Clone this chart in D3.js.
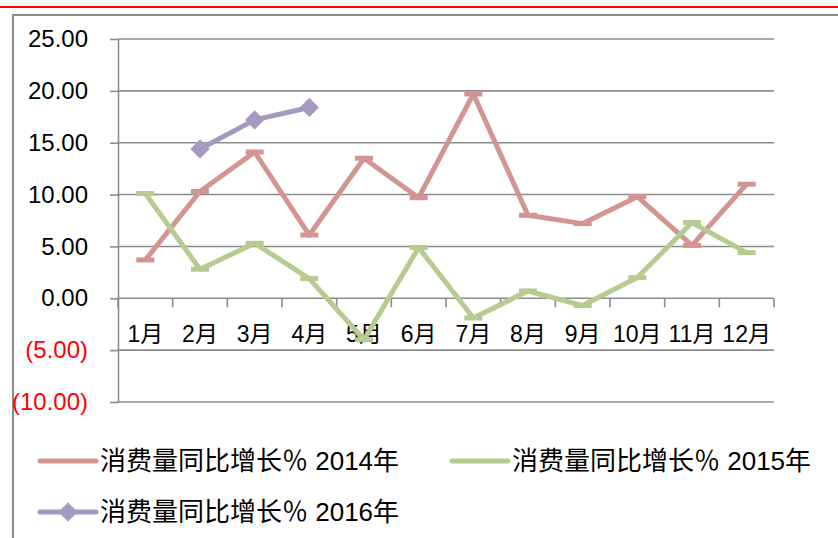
<!DOCTYPE html>
<html>
<head>
<meta charset="utf-8">
<script src="https://cdn.jsdelivr.net/npm/d3@7"></script>
<style>
	body { margin: 0; background: #fff; }
	#chart-area { width: 838px; height: 538px; }
	text { font-family: "Liberation Sans", "Noto Sans CJK SC", sans-serif; }
</style>
</head>
<body>
<div id="chart-area"></div>
<script>

// data
const months = ['1月', '2月', '3月', '4月', '5月', '6月', '7月', '8月', '9月', '10月', '11月', '12月'];
const growth2014 = [3.7, 10.3, 14.1, 6.1, 13.5, 9.7, 19.7, 8.0, 7.2, 9.8, 5.1, 11.0];
const growth2015 = [10.1, 2.8, 5.3, 1.9, -4.0, 4.9, -1.9, 0.7, -0.7, 2.0, 7.3, 4.4];
const growth2016 = [null, 14.4, 17.2, 18.4, null, null, null, null, null, null, null, null];
const seriesNames = ['消费量同比增长％ 2014年', '消费量同比增长％ 2015年', '消费量同比增长％ 2016年'];
const yTicks = [-10, -5, 0, 5, 10, 15, 20, 25];


class GrowthChart {

	constructor(_parentElement) {
		this.parentElement = _parentElement;

		// define colors
		this.colors = ['#D39592', '#B5CB8F', '#A598C1'];
		this.markers = ['dash', 'dash', 'diamond'];

		this.initVis();
	}

	initVis() {
		let vis = this;

		vis.width = 838;
		vis.height = 538;
		vis.plot = {left: 118, right: 774, top: 39, bottom: 402};

		vis.svg = d3.select("#" + vis.parentElement).append("svg")
			.attr("width", vis.width)
			.attr("height", vis.height);

		// red rule on top + frame of the chart
		vis.svg.append("line")
			.attr("x1", 0).attr("x2", vis.width)
			.attr("y1", 7).attr("y2", 7)
			.attr("stroke", "#FF0000")
			.attr("stroke-width", 2.2);

		vis.svg.append("path")
			.attr("d", `M13,${vis.height} V15 H${vis.width}`)
			.attr("fill", "none")
			.attr("stroke", "#8c8c8c")
			.attr("stroke-width", 2);

		// scales
		vis.x = d3.scaleBand()
			.domain(months)
			.range([vis.plot.left, vis.plot.right]);

		vis.y = d3.scaleLinear()
			.domain([-10, 25])
			.range([vis.plot.bottom, vis.plot.top]);

		// gridlines
		vis.svg.append("g")
			.attr("class", "grid")
			.selectAll("line")
			.data(yTicks)
			.enter().append("line")
			.attr("x1", vis.plot.left)
			.attr("x2", vis.plot.right)
			.attr("y1", d => vis.y(d))
			.attr("y2", d => vis.y(d))
			.attr("stroke", "#8c8c8c")
			.attr("stroke-width", 1.6);

		// y axis
		let fmt = d3.format(".2f");
		vis.yAxis = d3.axisLeft(vis.y)
			.tickValues(yTicks)
			.tickSizeInner(8)
			.tickSizeOuter(0)
			.tickPadding(22)
			.tickFormat(d => d < 0 ? `(${fmt(-d)})` : fmt(d));

		vis.yAxisG = vis.svg.append("g")
			.attr("class", "y-axis axis")
			.attr("transform", `translate(${vis.plot.left},0)`)
			.call(vis.yAxis);

		vis.yAxisG.selectAll("line, path")
			.attr("stroke", "#8c8c8c")
			.attr("stroke-width", 1.6);

		vis.yAxisG.selectAll("text")
			.attr("font-size", 24)
			.attr("font-family", "Liberation Sans, sans-serif")
			.attr("fill", d => d < 0 ? "#FF0000" : "#000");

		// x axis at zero line, ticks on band edges
		let y0 = vis.y(0);
		let edges = [vis.x(months[0])].concat(months.map(m => vis.x(m) + vis.x.bandwidth()));

		vis.svg.append("g")
			.attr("class", "x-ticks")
			.selectAll("line")
			.data(edges)
			.enter().append("line")
			.attr("x1", d => d).attr("x2", d => d)
			.attr("y1", y0).attr("y2", y0 + 9)
			.attr("stroke", "#8c8c8c")
			.attr("stroke-width", 1.6);

		vis.svg.append("g")
			.attr("class", "x-labels")
			.selectAll("text")
			.data(months)
			.enter().append("text")
			.attr("x", d => vis.x(d) + vis.x.bandwidth() / 2)
			.attr("y", y0 + 44)
			.attr("text-anchor", "middle")
			.attr("font-size", 23)
			.text(d => d);

		vis.line = d3.line()
			.defined(d => d.value !== null)
			.x(d => vis.x(d.month) + vis.x.bandwidth() / 2)
			.y(d => vis.y(d.value));

		vis.wrangleData();
	}

	wrangleData() {
		let vis = this;

		vis.displayData = [growth2014, growth2015, growth2016].map((arr, i) => ({
			name: seriesNames[i],
			color: vis.colors[i],
			marker: vis.markers[i],
			values: arr.map((v, j) => ({month: months[j], value: v}))
		}));

		vis.updateVis();
	}

	drawMarker(sel, d, color) {
		if (d === 'dash') {
			sel.append("rect")
				.attr("x", -9).attr("y", -2.5)
				.attr("width", 18).attr("height", 5)
				.attr("fill", color);
		} else {
			sel.append("path")
				.attr("d", d3.symbol(d3.symbolSquare, 185)())
				.attr("transform", "rotate(45)")
				.attr("fill", color);
		}
	}

	updateVis() {
		let vis = this;

		let series = vis.svg.selectAll(".series")
			.data(vis.displayData)
			.enter().append("g")
			.attr("class", "series");

		series.append("path")
			.attr("d", d => vis.line(d.values))
			.attr("fill", "none")
			.attr("stroke", d => d.color)
			.attr("stroke-width", 5)
			.attr("stroke-linejoin", "round");

		series.each(function (s) {
			d3.select(this).selectAll(".marker")
				.data(s.values.filter(v => v.value !== null))
				.enter().append("g")
				.attr("class", "marker")
				.attr("transform", d => `translate(${vis.x(d.month) + vis.x.bandwidth() / 2},${vis.y(d.value)})`)
				.each(function () { vis.drawMarker(d3.select(this), s.marker, s.color); });
		});

		// Legend
		let legendPos = [[40, 461], [452, 461], [40, 512]];

		let legend = vis.svg.append("g")
			.attr("class", "legend")
			.selectAll("g")
			.data(vis.displayData)
			.enter().append("g")
			.attr("transform", (d, i) => `translate(${legendPos[i][0]},${legendPos[i][1]})`);

		legend.append("line")
			.attr("x1", 0).attr("x2", 56)
			.attr("stroke", d => d.color)
			.attr("stroke-width", 5)
			.attr("stroke-linecap", "round");

		legend.filter(d => d.marker === 'diamond')
			.append("g")
			.attr("transform", "translate(28,0)")
			.each(function (d) { vis.drawMarker(d3.select(this), d.marker, d.color); });

		legend.append("text")
			.attr("x", 60)
			.attr("y", 9)
			.attr("font-size", 26)
			.attr("font-family", "Noto Sans CJK SC, sans-serif")
			.text(d => d.name);
	}
}

new GrowthChart("chart-area");

</script>
</body>
</html>
